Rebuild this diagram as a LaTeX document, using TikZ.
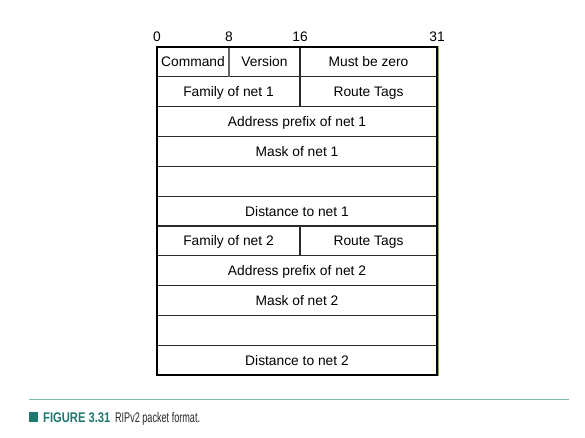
\documentclass[tikz,border=0pt]{standalone}
\usepackage{fontspec}
\setmainfont{Liberation Sans}
\definecolor{teal1}{HTML}{1E7A6E}
\definecolor{tealline}{HTML}{7FB8AE}
\definecolor{olive}{HTML}{86A95A}
\definecolor{inner}{HTML}{2A2A2A}
\begin{document}
\begin{tikzpicture}[x=1pt,y=-1pt,
  lbl/.style={font=\fontsize{13.8}{14}\selectfont, text=black, inner sep=0pt, anchor=base},
  bitlbl/.style={font=\fontsize{13.8}{14}\selectfont, text=black, inner sep=0pt, anchor=base},
  row/.style={draw=inner, line width=1.2pt}]
\useasboundingbox (0,0) rectangle (585,438);
\def\rh{29.82}
% horizontal lines
\foreach \i in {1,...,10} {
  \draw[row] (157,{47+\i*\rh}) -- (437,{47+\i*\rh});
}
% vertical dividers
\draw[draw=gray!80!black, line width=1.2pt] (229,47) -- (229,{47+\rh});
\draw[row] (300,47) -- (300,{47+2*\rh});
\draw[row] (300,{47+6*\rh}) -- (300,{47+7*\rh});
% outer box
\draw[olive, line width=1.2pt] (158,46.2) -- (438.2,46.2) -- (438.2,375.5);
\draw[black, line width=1.3pt] (157,47) rectangle (437,375);
% bit labels
\node[bitlbl] (b0) at (157,41.5) {0};
\node[bitlbl] (b8) at (229,41.5) {8};
\node[bitlbl] (b16) at (300,41.5) {16};
\node[bitlbl] (b31) at (437,41.5) {31};
% fields
\node[lbl] (cmd) at (193,{52+0.5*\rh}) {Command};
\node[lbl] (ver) at (264.5,{52+0.5*\rh}) {Version};
\node[lbl] (mbz) at (368.5,{52+0.5*\rh}) {Must be zero};
\node[lbl] (fam1) at (228.5,{52+1.5*\rh}) {Family of net 1};
\node[lbl] (rt1) at (368.5,{52+1.5*\rh}) {Route Tags};
\node[lbl] (ap1) at (297,{52+2.5*\rh}) {Address prefix of net 1};
\node[lbl] (m1) at (297,{52+3.5*\rh}) {Mask of net 1};
\node[lbl] (d1) at (297,{52+5.5*\rh}) {Distance to net 1};
\node[lbl] (fam2) at (228.5,{52+6.5*\rh}) {Family of net 2};
\node[lbl] (rt2) at (368.5,{52+6.5*\rh}) {Route Tags};
\node[lbl] (ap2) at (297,{52+7.5*\rh}) {Address prefix of net 2};
\node[lbl] (m2) at (297,{52+8.5*\rh}) {Mask of net 2};
\node[lbl] (d2) at (297,{52+10.5*\rh}) {Distance to net 2};
% caption
\draw[tealline, line width=1.5pt] (29,399.5) -- (569,399.5);
\fill[teal1] (29,412) rectangle (38,422);
\node[anchor=base west, inner sep=0pt, text=teal1, font=\fontsize{14}{15}\selectfont\bfseries, xscale=0.8] (fig) at (43,422.5) {FIGURE 3.31};
\node[anchor=base west, inner sep=0pt, text=black!85, font=\fontsize{14}{15}\selectfont, xscale=0.65] (cap) at (115,422.5) {RIPv2 packet format.};
\end{tikzpicture}
\end{document}
